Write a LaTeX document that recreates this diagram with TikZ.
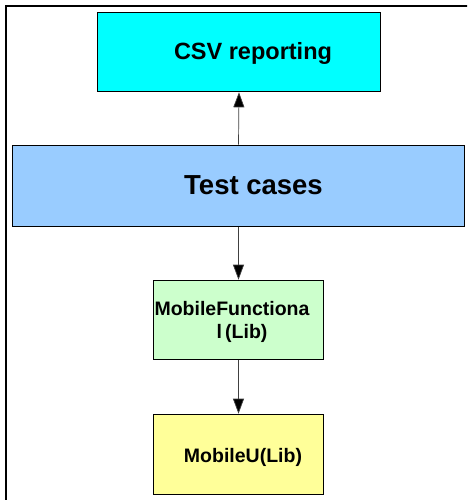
\documentclass[tikz,border=0pt]{standalone}
\usepackage{fontspec}
\setmainfont{Liberation Sans}
\usetikzlibrary{arrows.meta}
\definecolor{csvcyan}{RGB}{0,255,255}
\definecolor{testblue}{RGB}{153,204,255}
\definecolor{libgreen}{RGB}{204,255,204}
\definecolor{libyellow}{RGB}{255,255,153}
\tikzset{
  box/.style={draw=black,line width=1.6pt,inner sep=0pt},
  lbl/.style={anchor=base,inner sep=0pt,font=\bfseries},
  link/.style={line width=0.7pt,draw=black!75,-{Triangle[width=11pt,length=15pt,fill=black]}}
}
\begin{document}
\begin{tikzpicture}[x=1pt,y=-1pt]
\clip (0,0) rectangle (467,500);
% frame
\draw[line width=2.2pt] (6,520) -- (6,6) -- (490,6);
% boxes
\node (csv) at (239,52) [box,fill=csvcyan,minimum width=283pt,minimum height=79pt] {};
\node (tests) at (238.5,186) [box,fill=testblue,minimum width=452pt,minimum height=81pt] {};
\node (mfunc) at (238.5,320) [box,fill=libgreen,minimum width=170pt,minimum height=79pt] {};
\node (mobu) at (238.5,454.5) [box,fill=libyellow,minimum width=170pt,minimum height=80pt] {};
% labels
\node (csvtxt) at (253,60) [lbl]{\fontsize{23.5}{28}\selectfont CSV reporting};
\node (teststxt) at (253.5,194) [lbl]{\fontsize{27.5}{32}\selectfont Test cases};
\node (mfunctxt) at (232,315) [lbl]{\fontsize{19.5}{23}\selectfont MobileFunctiona};
\node (mfunctxtb) at (242,338) [lbl]{\fontsize{19.5}{23}\selectfont l\,(Lib)};
\node (mobutxt) at (243,462) [lbl]{\fontsize{19.5}{23}\selectfont MobileU(Lib)};
% arrows
\draw[link] (tests.north) -- (csv.south);
\draw[link] (tests.south) -- (mfunc.north);
\draw[link] (mfunc.south) -- (mobu.north);
\end{tikzpicture}
\end{document}
